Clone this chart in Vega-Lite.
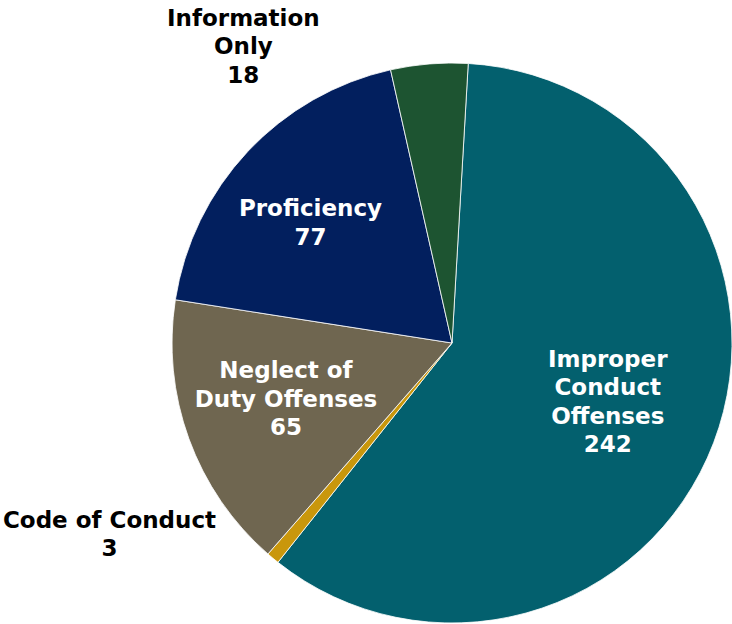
{
  "$schema": "https://vega.github.io/schema/vega-lite/v6.json",
  "width": 560,
  "height": 562,
  "autosize": {"type": "none"},
  "padding": {"left": 172, "top": 62, "right": 0, "bottom": 0},
  "background": "white",
  "config": {"view": {"stroke": null}},
  "data": {
    "values": [
      {"category": "Improper Conduct Offenses", "label": "Improper\nConduct\nOffenses\n242", "count": 242, "order": 1},
      {"category": "Code of Conduct", "label": "Code of Conduct\n3", "count": 3, "order": 2},
      {"category": "Neglect of Duty Offenses", "label": "Neglect of\nDuty Offenses\n65", "count": 65, "order": 3},
      {"category": "Proficiency", "label": "Proficiency\n77", "count": 77, "order": 4},
      {"category": "Information Only", "label": "Information\nOnly\n18", "count": 18, "order": 5}
    ]
  },
  "encoding": {
    "theta": {"field": "count", "type": "quantitative", "stack": true, "scale": {"range": [0.058, 6.3412]}},
    "order": {"field": "order", "type": "quantitative"}
  },
  "layer": [
    {
      "mark": {"type": "arc", "stroke": "white", "strokeWidth": 0.8},
      "encoding": {
        "color": {
          "field": "category",
          "type": "nominal",
          "scale": {
            "domain": ["Improper Conduct Offenses", "Code of Conduct", "Neglect of Duty Offenses", "Proficiency", "Information Only"],
            "range": ["#03606E", "#C9970C", "#6F6650", "#021F5E", "#1D5431"]
          },
          "legend": null
        }
      }
    },
    {
      "mark": {"type": "text", "radius": 156, "color": "white", "font": "DejaVu Sans", "fontWeight": "bold", "fontSize": 23, "lineHeight": 28.5, "lineBreak": "\n", "align": "center", "baseline": "middle", "dx": 10, "dy": -39},
      "encoding": {"text": {"condition": {"test": "datum.order == 1", "field": "label"}, "value": ""}}
    },
    {
      "mark": {"type": "text", "radius": 165, "color": "white", "font": "DejaVu Sans", "fontWeight": "bold", "fontSize": 23, "lineHeight": 28.5, "lineBreak": "\n", "align": "center", "baseline": "middle", "dx": -11, "dy": -28},
      "encoding": {"text": {"condition": {"test": "datum.order == 3", "field": "label"}, "value": ""}}
    },
    {
      "mark": {"type": "text", "radius": 187, "color": "white", "font": "DejaVu Sans", "fontWeight": "bold", "fontSize": 23, "lineHeight": 28.5, "lineBreak": "\n", "align": "center", "baseline": "middle", "dx": -5, "dy": -6},
      "encoding": {"text": {"condition": {"test": "datum.order == 4", "field": "label"}, "value": ""}}
    },
    {
      "mark": {"type": "text", "radius": 290, "color": "black", "font": "DejaVu Sans", "fontWeight": "bold", "fontSize": 23, "lineHeight": 28.5, "lineBreak": "\n", "align": "center", "baseline": "middle", "dx": -185, "dy": -35},
      "encoding": {"text": {"condition": {"test": "datum.order == 5", "field": "label"}, "value": ""}}
    },
    {
      "mark": {"type": "text", "radius": 290, "color": "black", "font": "DejaVu Sans", "fontWeight": "bold", "fontSize": 23, "lineHeight": 28.5, "lineBreak": "\n", "align": "center", "baseline": "middle", "dx": -157, "dy": -45},
      "encoding": {"text": {"condition": {"test": "datum.order == 2", "field": "label"}, "value": ""}}
    }
  ]
}
